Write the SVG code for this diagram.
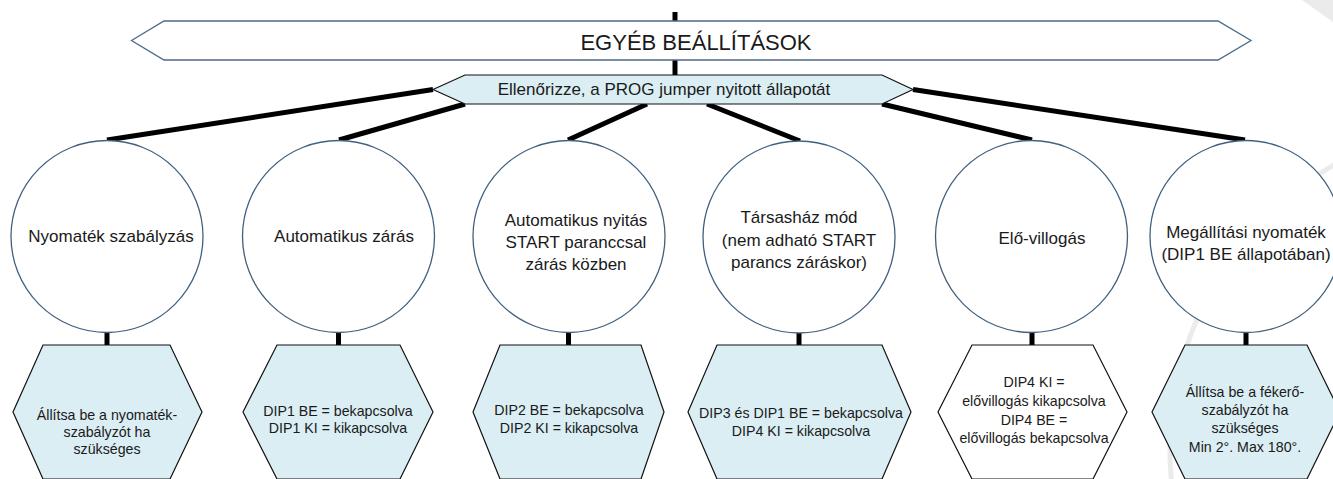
<svg xmlns="http://www.w3.org/2000/svg" width="1333" height="479" viewBox="0 0 1333 479">
<style>
.t{font-family:"Liberation Sans",Arial,sans-serif;fill:#1a1a1a;text-anchor:middle}
.c{font-size:17px}
.h{font-size:14.2px}
.circ{fill:#ffffff;stroke:#41607e;stroke-width:1.3}
.hex{fill:#dbeef4;stroke:#111111;stroke-width:1.2}
.hexw{fill:#ffffff;stroke:#111111;stroke-width:1.2}
.con{stroke:#000000;stroke-width:5;fill:none;stroke-linecap:butt}
.wm{stroke:#ebebeb;stroke-width:5;fill:none}
</style>
<rect width="1333" height="479" fill="#ffffff"/>
<g id="watermark">
<polygon points="1302,0 1333,0 1333,22" fill="#ebebeb"/>
<path class="wm" d="M1400,135.5 A330,330 0 0 0 1173.8,500"/>
<line class="wm" x1="1345" y1="365" x2="1303" y2="485"/>
</g>
<g id="connectors">
<line class="con" x1="675" y1="12" x2="675" y2="76"/>
<line class="con" x1="433" y1="89.5" x2="107" y2="140"/>
<line class="con" x1="465" y1="104" x2="339" y2="140"/>
<line class="con" x1="647" y1="104" x2="568" y2="140"/>
<line class="con" x1="707" y1="104" x2="800" y2="141"/>
<line class="con" x1="882" y1="104" x2="1032" y2="140"/>
<line class="con" x1="913" y1="89.5" x2="1245" y2="140"/>
<line class="con" x1="107" y1="330" x2="107" y2="346"/>
<line class="con" x1="338.5" y1="330" x2="338.5" y2="346"/>
<line class="con" x1="568.5" y1="330" x2="568.5" y2="346"/>
<line class="con" x1="799" y1="330" x2="799" y2="346"/>
<line class="con" x1="1032" y1="330" x2="1032" y2="346"/>
<line class="con" x1="1246" y1="330" x2="1246" y2="346"/>
</g>
<g id="title">
<polygon points="131.5,40.5 164,21 1218,21 1251,40.5 1218,60 164,60" fill="#ffffff" stroke="#4b6a88" stroke-width="1.3"/>
<text class="t" x="696" y="50" font-size="22">EGYÉB BEÁLLÍTÁSOK</text>
</g>
<g id="check">
<polygon points="433,89.5 465,75 882,75 913,89.5 882,104 465,104" fill="#dbeef4" stroke="#111111" stroke-width="1.2"/>
<text class="t" x="664" y="95" font-size="17">Ellenőrizze, a PROG jumper nyitott állapotát</text>
</g>
<g id="c1">
<circle class="circ" cx="107" cy="236.5" r="96"/>
<text class="t c" x="111" y="242">Nyomaték szabályzás</text>
</g>
<g id="c2">
<circle class="circ" cx="338.5" cy="236.5" r="96"/>
<text class="t c" x="344" y="242">Automatikus zárás</text>
</g>
<g id="c3">
<circle class="circ" cx="569" cy="236.5" r="96"/>
<text class="t c" x="576" y="226">Automatikus nyitás</text>
<text class="t c" x="576" y="248">START paranccsal</text>
<text class="t c" x="576" y="270">zárás közben</text>
</g>
<g id="c4">
<circle class="circ" cx="799" cy="237" r="96"/>
<text class="t c" x="799" y="223">Társasház mód</text>
<text class="t c" x="799" y="246">(nem adható START</text>
<text class="t c" x="799" y="268">parancs záráskor)</text>
</g>
<g id="c5">
<circle class="circ" cx="1031.5" cy="236.5" r="96"/>
<text class="t c" x="1042" y="244">Elő-villogás</text>
</g>
<g id="c6">
<circle class="circ" cx="1246" cy="236.5" r="96"/>
<text class="t c" x="1246" y="238">Megállítási nyomaték</text>
<text class="t c" x="1246" y="260">(DIP1 BE állapotában)</text>
</g>
<g id="h1">
<polygon class="hex" points="43,345 170,345 202,412 170,479 43,479 13,412"/>
<text class="t h" x="107" y="420">Állítsa be a nyomaték-</text>
<text class="t h" x="107" y="437">szabályzót ha</text>
<text class="t h" x="107" y="454">szükséges</text>
</g>
<g id="h2">
<polygon class="hex" points="277,345 400,345 433,412 400,479 277,479 243,412"/>
<text class="t h" x="338" y="416">DIP1 BE = bekapcsolva</text>
<text class="t h" x="338" y="433">DIP1 KI = kikapcsolva</text>
</g>
<g id="h3">
<polygon class="hex" points="500,345 641,345 664,412 641,479 500,479 473,412"/>
<text class="t h" x="569" y="415">DIP2 BE = bekapcsolva</text>
<text class="t h" x="569" y="433">DIP2 KI = kikapcsolva</text>
</g>
<g id="h4">
<polygon class="hex" points="717,345 882,345 911,412 882,479 717,479 688,412"/>
<text class="t h" x="801" y="418">DIP3 és DIP1 BE = bekapcsolva</text>
<text class="t h" x="801" y="436">DIP4 KI = kikapcsolva</text>
</g>
<g id="h5">
<polygon class="hexw" points="972,345 1093,345 1127,412 1093,479 972,479 938,412"/>
<text class="t h" x="1034" y="387">DIP4 KI =</text>
<text class="t h" x="1034" y="406">elővillogás kikapcsolva</text>
<text class="t h" x="1034" y="425">DIP4 BE =</text>
<text class="t h" x="1034" y="443">elővillogás bekapcsolva</text>
</g>
<g id="h6">
<polygon class="hex" points="1185,345 1307,345 1340,412 1307,479 1185,479 1152,412"/>
<text class="t h" x="1245" y="397">Állítsa be a fékerő-</text>
<text class="t h" x="1245" y="415">szabályzót ha</text>
<text class="t h" x="1245" y="433">szükséges</text>
<text class="t h" x="1245" y="452">Min 2°. Max 180°.</text>
</g>
</svg>
